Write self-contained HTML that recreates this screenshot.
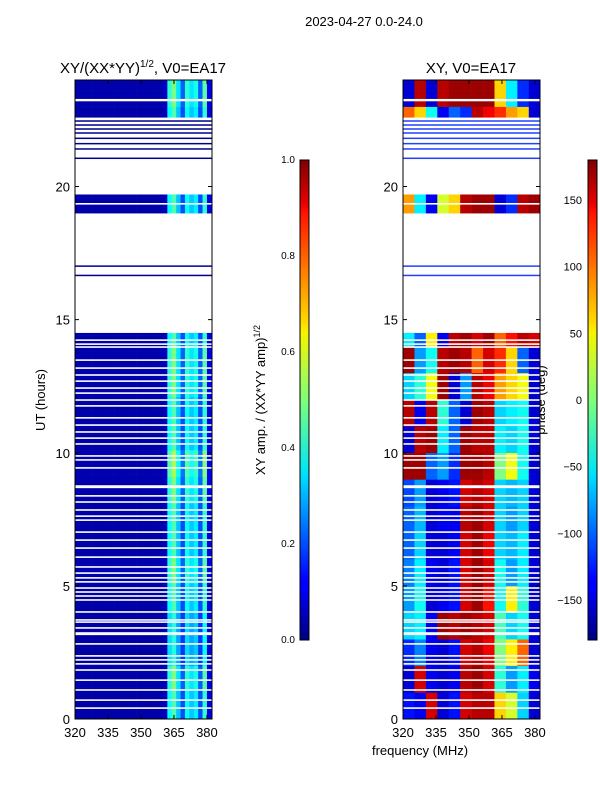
<!DOCTYPE html>
<html><head><meta charset="utf-8"><style>
body{margin:0;background:#fff;}
svg{display:block;font-family:"Liberation Sans",sans-serif;}
</style></head><body>
<svg id="c" width="600" height="800" xmlns="http://www.w3.org/2000/svg">
<defs>
<linearGradient id="jet" x1="0" y1="1" x2="0" y2="0">
<stop offset="0" stop-color="#00007f"/><stop offset="0.11" stop-color="#0000ff"/><stop offset="0.125" stop-color="#0000ff"/><stop offset="0.34" stop-color="#00dcff"/><stop offset="0.35" stop-color="#00e5f6"/><stop offset="0.5" stop-color="#7dff7a"/><stop offset="0.64" stop-color="#f6f400"/><stop offset="0.66" stop-color="#ffdb00"/><stop offset="0.89" stop-color="#ff1300"/><stop offset="0.91" stop-color="#e80000"/><stop offset="1" stop-color="#7f0000"/>
</linearGradient>
</defs>
<text x="364" y="26" font-size="13" text-anchor="middle">2023-04-27 0.0-24.0</text>
<text x="143" y="73" font-size="15" text-anchor="middle">XY/(XX*YY)<tspan font-size="10" dy="-6">1/2</tspan><tspan dy="6">, V0=EA17</tspan></text>
<text x="471" y="73" font-size="15" text-anchor="middle">XY, V0=EA17</text>
<text transform="translate(45,400) rotate(-90)" font-size="13" text-anchor="middle">UT (hours)</text>
<text transform="translate(265,400) rotate(-90)" font-size="13" text-anchor="middle">XY amp. / (XX*YY amp)<tspan font-size="9" dy="-5">1/2</tspan></text>
<text transform="translate(545,400) rotate(-90)" font-size="13" text-anchor="middle">phase (deg)</text>
<text x="420" y="755" font-size="13" text-anchor="middle">frequency (MHz)</text>
<g id="left"></g>
<g id="right"></g>
<g id="axes"></g>
<rect x="300" y="160" width="9" height="480" fill="url(#jet)" stroke="#000" stroke-width="1"/>
<rect x="588" y="160" width="9" height="480" fill="url(#jet)" stroke="#000" stroke-width="1"/>
</svg>
<script>
// ---- data ----
const validSegments=[[0,14.45],[19.05,19.7],[22.65,23.25],[23.3,24]];
const thinLines=[16.65,17.0,21.05,21.4,21.6,21.8,22.0,22.15,22.3,22.45];
const gapHours=[14.23,14.08,13.97,13.48,13.18,12.92,12.69,12.43,12.24,11.98,11.76,11.31,11.04,10.78,10.55,10.33,9.88,9.73,9.43,8.75,8.7,8.38,8.15,7.85,7.62,7.47,7.02,6.72,6.42,6.08,5.71,5.48,5.30,5.15,4.92,4.77,4.62,4.47,4.02,3.72,3.64,3.42,3.23,3.18,2.82,2.37,2.22,2.07,1.84,1.46,1.09,0.71,0.41,19.35];
const ampCols=[0.04,0.04,0.04,0.04,0.04,0.04,0.04,0.04,0.04,0.04,0.04,0.04,0.04,0.04,0.04,0.04,0.04,0.04,0.04,0.04,0.06,0.38,0.45,0.32,0.2,0.38,0.32,0.36,0.2,0.42,0.1];
const ampHourScale=[1.0,1.1,0.9,0.9,1.0,1.1,1.0,1.0,1.1,1.2,1.0,1.0,1.1,1.1,1.0,1,1,1,1,1.0,1,1,1.0,1.1];
const phaseFreqs=[320,325.2,330.4,335.6,340.8,346,351.2,356.4,361.6,366.8,372,377.2];
const phaseHours=[0,1,2,3,4,5,6,7,8,9,10,11,12,13,14,16,17,19,21,22,23];
const phase=[
[-130,-140,150,-150,-130,150,160,160,60,30,-60,-150],
[-150,150,-140,-150,-140,160,170,150,-30,-80,-50,-140],
[-120,-90,-140,-150,-130,150,160,140,0,50,100,-150],
[-60,-50,-140,170,160,170,160,150,-20,-60,-40,-150],
[-80,-40,-150,-140,-130,150,170,130,-40,50,-30,-150],
[-90,-50,-140,-150,-130,150,170,150,-40,-80,-50,-150],
[-100,-60,-150,-150,-140,150,170,140,-60,-70,-50,-150],
[-100,-70,-150,-140,-140,160,170,150,-60,-80,-60,-150],
[-110,-80,-150,-140,-130,150,160,150,-60,-70,-60,-150],
[170,170,-100,-80,-120,170,170,160,0,40,-40,-150],
[-150,160,170,-50,-100,170,160,160,-50,-60,-40,-150],
[160,-140,160,-30,-100,-150,170,160,-60,-50,-40,-150],
[-60,-30,40,170,-150,-80,160,140,80,60,40,-150],
[170,-80,-40,160,170,160,100,150,120,60,-100,-150],
[-50,-100,50,-140,160,170,150,170,100,130,160,150],
[-50,30,60,-140,-120,-100,60,-150,-120,-100,-140,-150],
[30,-60,-140,30,60,160,170,-120,-150,-120,160,170],
[80,-50,-140,30,60,160,170,170,-150,-120,160,170],
[-60,-40,60,-150,-100,160,170,140,60,80,-80,-150],
[100,60,-40,-140,-100,-120,160,140,120,80,60,-150],
[-150,160,-150,160,170,170,170,170,60,-50,-120,-150]];
const xTicks=[320,335,350,365,380];
const yTicks=[0,5,10,15,20];
const ampTicks=["0.0","0.2","0.4","0.6","0.8","1.0"];
const phaseTicks=[-150,-100,-50,0,50,100,150];
// ---- scales ----
const NS="http://www.w3.org/2000/svg";
const Y0=719,Y1=80,F0=320,F1=382.3;
const yS=h=>Y0-(h/24)*(Y0-Y1);
const xS=(f,L)=>L+(f-F0)/(F1-F0)*137;
function jet(v){v=Math.max(0,Math.min(1,v));
 const r=Math.min(4*v-1.5,-4*v+4.5),g=Math.min(4*v-0.5,-4*v+3.5),b=Math.min(4*v+0.5,-4*v+2.5);
 const c=x=>Math.round(255*Math.max(0,Math.min(1,x)));return `rgb(${c(r)},${c(g)},${c(b)})`;}
function mk(t,a,p){const e=document.createElementNS(NS,t);for(const k in a)e.setAttribute(k,a[k]);p.appendChild(e);return e;}
const L=document.getElementById('left'),R=document.getElementById('right'),A=document.getElementById('axes');
function inValid(h){return validSegments.some(s=>h>=s[0]&&h<s[1]);}
// left amplitude
const dh=0.1;
for(let h=0;h<24;h+=dh){ if(!inValid(h+dh/2))continue;
 for(let i=0;i<ampCols.length;i++){const f=F0+2*i;
  const v=ampCols[i]*ampHourScale[Math.floor(h)];
  const r=mk('rect',{x:xS(f,75),y:yS(h+dh),width:xS(f+2,75)-xS(f,75)+0.3,height:yS(h)-yS(h+dh)+0.3,fill:jet(v)},L);
  
  }}
// right phase
for(let h=0;h<24;h+=dh){ if(!inValid(h+dh/2))continue;
 let ri=0;for(let k=0;k<phaseHours.length;k++)if(phaseHours[k]<=h+1e-6)ri=k;
 for(let j=0;j<phaseFreqs.length;j++){const f=phaseFreqs[j],f2=j<phaseFreqs.length-1?phaseFreqs[j+1]:F1;
  const v=(phase[ri][j]+180)/360;
  const r=mk('rect',{x:xS(f,403),y:yS(h+dh),width:xS(f2,403)-xS(f,403)+0.3,height:yS(h)-yS(h+dh)+0.3,fill:jet(v)},R);
  
  }}
// thin flagged lines and gaps
for(const P of [[L,75],[R,403]]){
 for(const t of thinLines){const r=mk('rect',{x:P[1],y:yS(t)-1,width:137,height:1.5,fill:P[0]===L?'#00008f':'#2040ff'},P[0]);
  }
 for(const g of gapHours){const r=mk('rect',{x:P[1],y:yS(g)-0.8,width:137,height:1.6,fill:'#fff'},P[0]);
  }
}
// axes frames and ticks
for(const Lx of [75,403]){
 const fr=mk('rect',{x:Lx,y:80,width:137,height:639,fill:'none',stroke:'#000','stroke-width':1},A);
 
 for(const t of xTicks){const x=xS(t,Lx);
  mk('line',{x1:x,x2:x,y1:719,y2:715,stroke:'#000'},A);mk('line',{x1:x,x2:x,y1:80,y2:84,stroke:'#000'},A);
  const tx=mk('text',{x:x,y:737,'font-size':13,'text-anchor':'middle'},A);tx.textContent=t;
  }
 for(const t of yTicks){const y=yS(t);
  mk('line',{x1:Lx,x2:Lx+4,y1:y,y2:y,stroke:'#000'},A);mk('line',{x1:Lx+137,x2:Lx+133,y1:y,y2:y,stroke:'#000'},A);
  const tx=mk('text',{x:Lx-5,y:y+5,'font-size':13,'text-anchor':'end'},A);tx.textContent=t;
  }
}
ampTicks.forEach((t,i)=>{const y=640-i*96;
 mk('line',{x1:300,x2:303,y1:y,y2:y,stroke:'#000'},A);
 const tx=mk('text',{x:295,y:y+3,'font-size':10,'text-anchor':'end'},A);tx.textContent=t;
 });
phaseTicks.forEach(t=>{const y=400-t/180*240;
 mk('line',{x1:588,x2:591,y1:y,y2:y,stroke:'#000'},A);
 const tx=mk('text',{x:582,y:y+4,'font-size':11,'text-anchor':'end'},A);tx.textContent=t<0?'\u2212'+(-t):t;
 });
</script>
</body></html>
